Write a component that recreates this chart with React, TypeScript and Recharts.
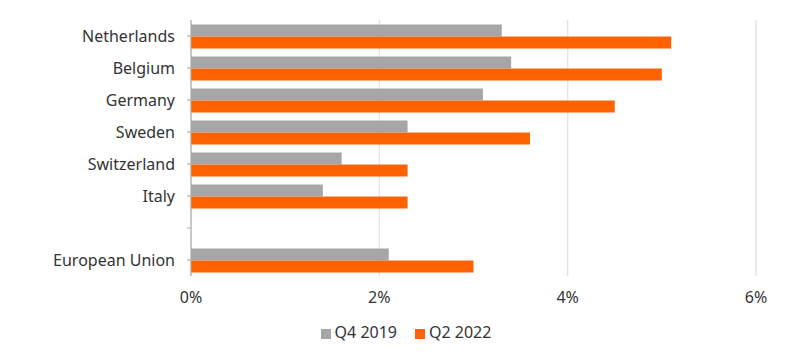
import { BarChart, Bar, XAxis, YAxis, CartesianGrid, Legend } from 'recharts';

const countries = ['Netherlands', 'Belgium', 'Germany', 'Sweden', 'Switzerland', 'Italy', '', 'European Union'];
const q4_2019 = [3.3, 3.4, 3.1, 2.3, 1.6, 1.4, null, 2.1];
const q2_2022 = [5.1, 5.0, 4.5, 3.6, 2.3, 2.3, null, 3.0];
const xTicks = [0, 2, 4, 6];

const data = countries.map((c, i) => ({ name: c, q4: q4_2019[i], q2: q2_2022[i] }));

const font = '"Noto Sans", sans-serif';

export default function App() {
  return (
    <div style={{ position: 'absolute', left: 0, top: 0, fontFamily: font }}>
      <BarChart
        width={800}
        height={357}
        data={data}
        layout="vertical"
        margin={{ top: 20, right: 44, left: 54, bottom: 13 }}
        barCategoryGap="14%"
        barGap={0}
      >
        <CartesianGrid horizontal={false} stroke="#e4e4e4" strokeWidth={1.5} />
        <XAxis
          type="number"
          domain={[0, 6]}
          ticks={xTicks}
          tickFormatter={(v) => `${v}%`}
          axisLine={false}
          tickLine={false}
          tickSize={14}
          height={44}
          tick={{ fill: '#333', fontSize: 16, fontFamily: font }}
        />
        <YAxis
          type="category"
          dataKey="name"
          width={137}
          axisLine={{ stroke: '#a6a6a6' }}
          tickLine={{ stroke: '#a6a6a6' }}
          tickSize={4}
          tickMargin={12}
          interval={0}
          tick={{ fill: '#333', fontSize: 16, fontFamily: font }}
        />
        <Legend
          verticalAlign="bottom"
          iconType="square"
          iconSize={10}
          itemSorter={(item) => (item.dataKey === 'q4' ? 0 : 1)}
          wrapperStyle={{ left: 60, fontSize: 16, fontFamily: font, color: '#333', lineHeight: '24px' }}
          formatter={(v, entry, index) => (
            <span style={{ color: '#333', marginRight: index === 0 ? 8 : 0 }}>{v}</span>
          )}
        />
        <Bar dataKey="q4" name="Q4 2019" fill="#a6a6a6" isAnimationActive={false} />
        <Bar dataKey="q2" name="Q2 2022" fill="#ff6200" isAnimationActive={false} />
      </BarChart>
    </div>
  );
}
